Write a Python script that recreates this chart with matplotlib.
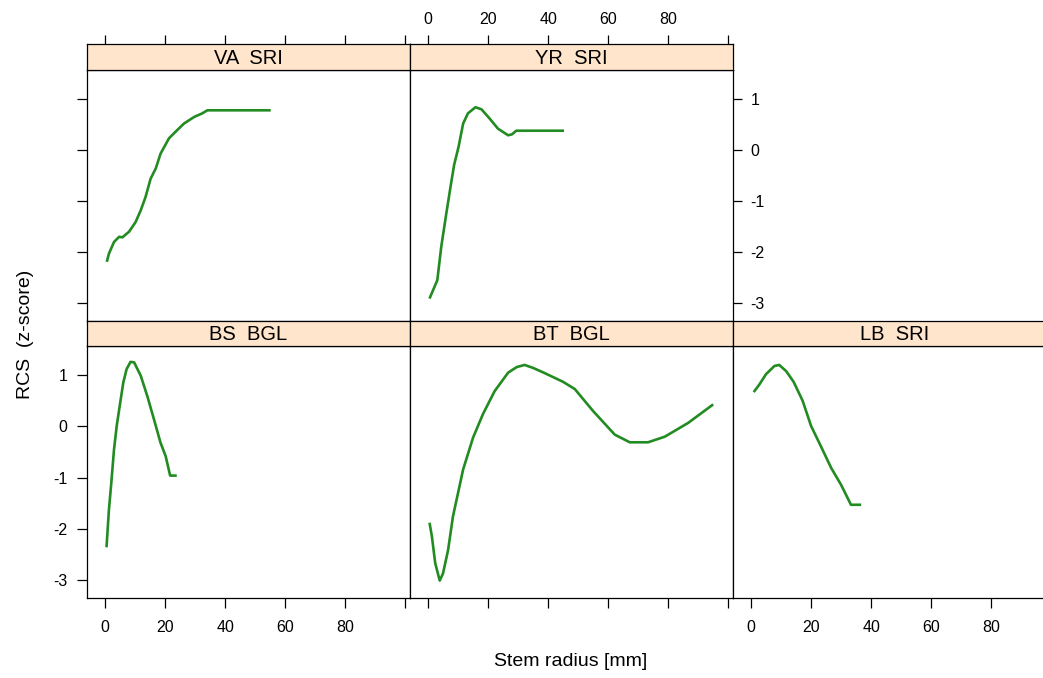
import matplotlib
matplotlib.use("Agg")
import matplotlib.pyplot as plt
import numpy as np

plt.rcParams["font.family"] = ["Liberation Sans", "DejaVu Sans"]

# curves (stem radius in mm, RCS z-score)
va_x = [0.5, 1.2, 2.9, 4.6, 5.7, 7.9, 10.1, 11.8, 13.4, 15.1, 16.8, 18.4, 21.2,
        23.4, 26.2, 29.6, 32.3, 34.0, 55.1]
va_y = [-2.19, -2.03, -1.80, -1.70, -1.71, -1.60, -1.41, -1.18, -0.92, -0.56,
        -0.36, -0.07, 0.23, 0.36, 0.52, 0.65, 0.72, 0.78, 0.78]

yr_x = [0.4, 3.0, 4.3, 6.0, 7.4, 8.6, 10.1, 11.6, 13.2, 15.7, 17.7, 20.4, 23.2,
        26.6, 27.9, 29.3, 45.2]
yr_y = [-2.91, -2.55, -1.90, -1.24, -0.72, -0.29, 0.07, 0.52, 0.72, 0.84, 0.80,
        0.62, 0.42, 0.29, 0.31, 0.38, 0.38]

bs_x = [0.4, 1.2, 2.0, 2.9, 3.8, 4.8, 6.0, 7.1, 8.4, 9.6, 11.8, 14.0, 16.2,
        18.4, 20.1, 21.6, 23.8]
bs_y = [-2.36, -1.63, -1.10, -0.45, 0.01, 0.40, 0.86, 1.12, 1.26, 1.25, 0.99,
        0.59, 0.14, -0.32, -0.58, -0.96, -0.96]

bt_x = [0.4, 1.2, 2.3, 3.8, 4.9, 6.6, 8.2, 9.9, 11.6, 14.9, 18.2, 22.1, 26.6,
        29.5, 32.1, 35.0, 38.8, 44.9, 48.8, 54.9, 62.1, 67.1, 73.2, 78.8, 86.6,
        94.9]
bt_y = [-1.88, -2.15, -2.67, -3.01, -2.87, -2.41, -1.76, -1.30, -0.84, -0.22,
        0.24, 0.69, 1.05, 1.16, 1.20, 1.14, 1.04, 0.87, 0.73, 0.30, -0.16, -0.31,
        -0.31, -0.20, 0.07, 0.43]

lb_x = [0.8, 2.7, 4.9, 7.7, 9.3, 11.6, 14.1, 17.1, 19.9, 23.2, 26.6, 29.9,
        33.2, 36.6]
lb_y = [0.67, 0.82, 1.02, 1.18, 1.20, 1.08, 0.87, 0.50, 0.01, -0.39, -0.81,
        -1.14, -1.53, -1.53]

x_ticks = [0, 20, 40, 60, 80, 100]
x_labels = ["0", "20", "40", "60", "80", ""]
y_ticks = [-3, -2, -1, 0, 1]
y_labels = ["-3", "-2", "-1", "0", "1"]

XLIM = (-6.1, 101.5)
YLIM = (-3.35, 1.57)
W, H = 1043, 678
GREEN = "#228b22"
STRIP = "#ffe5cc"
TICK_FS = 11.5

fig = plt.figure(figsize=(W / 100, H / 100), dpi=100)

col_left = [87, 410, 733]
col_w = 323
rows = {
    0: dict(panel=(70, 321), strip=(44, 70)),
    1: dict(panel=(346, 598), strip=(321, 346)),
}


def box(x0, top, bottom):
    return [x0 / W, 1 - bottom / H, col_w / W, (bottom - top) / H]


def make_panel(row, col, title, xs, ys):
    r = rows[row]
    ax = fig.add_axes(box(col_left[col], *r["panel"]))
    st = fig.add_axes(box(col_left[col], *r["strip"]))
    ax.plot(xs, ys, color=GREEN, lw=1.9, solid_capstyle="butt")
    for a in (ax, st):
        a.set_xlim(*XLIM)
        for s in a.spines.values():
            s.set_linewidth(0.9)
            s.set_color("black")
        a.tick_params(which="both", length=0, labelsize=TICK_FS,
                      labelbottom=False, labelleft=False)
        a.set_xticks(x_ticks)
    ax.set_ylim(*YLIM)
    ax.set_yticks(y_ticks)
    st.set_yticks([])
    st.set_facecolor(STRIP)
    st.text(0.5, 0.45, title, transform=st.transAxes, ha="center",
            va="center", fontsize=14.5)
    return ax, st


va, va_s = make_panel(0, 0, "VA  SRI", va_x, va_y)
yr, yr_s = make_panel(0, 1, "YR  SRI", yr_x, yr_y)
bs, bs_s = make_panel(1, 0, "BS  BGL", bs_x, bs_y)
bt, bt_s = make_panel(1, 1, "BT  BGL", bt_x, bt_y)
lb, lb_s = make_panel(1, 2, "LB  SRI", lb_x, lb_y)

# bottom axes
for ax, lab in ((bs, True), (bt, False), (lb, True)):
    ax.set_xticklabels(x_labels)
    ax.tick_params(axis="x", bottom=True, length=7.2, width=0.9,
                   direction="out", labelbottom=lab, pad=8.5)

# top axes drawn above the strips of the top row
for st, lab in ((va_s, False), (yr_s, True)):
    st.set_xticklabels(x_labels)
    st.tick_params(axis="x", top=True, bottom=False, length=6.5, width=0.9,
                   direction="out", labeltop=lab, labelbottom=False, pad=5.5)

# left axes
for ax, lab in ((va, False), (bs, True)):
    ax.set_yticklabels(y_labels)
    ax.tick_params(axis="y", left=True, length=7.2, width=0.9,
                   direction="out", labelleft=lab, pad=7)

# right axis of the top row (the bottom row's lies past the picture edge)
yr.set_yticklabels(y_labels)
yr.tick_params(axis="y", right=True, left=False, length=6.5, width=0.9,
               direction="out", labelright=True, labelleft=False, pad=6)

fig.text(571 / W, 1 - 662 / H, "Stem radius [mm]", ha="center", va="center",
         fontsize=14)
fig.text(25 / W, 1 - 334 / H, "RCS  (z-score)", ha="center", va="center",
         rotation=90, fontsize=14)

fig.savefig("out.png", dpi=100)
